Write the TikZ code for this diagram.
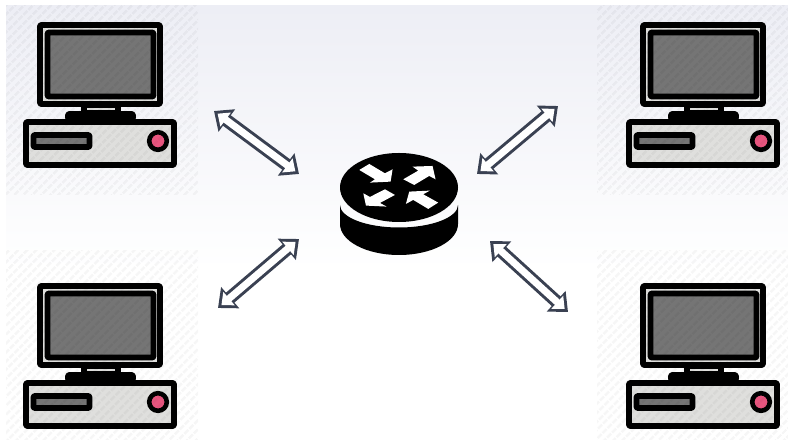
\documentclass[tikz,border=0pt]{standalone}
\usetikzlibrary{arrows.meta,patterns.meta}
\definecolor{linkdark}{HTML}{3A4152}
\definecolor{screengrey}{HTML}{757575}
\definecolor{casegrey}{HTML}{DFDFDD}
\definecolor{ledpink}{HTML}{E8557F}
\definecolor{bgtop}{HTML}{EDEEF5}
\tikzset{
	tile/.style={pattern={Lines[angle=45,distance=6.5pt,line width=3pt]},pattern color=black,opacity=0.035},
	frame/.style={draw=black,line width=5.8pt,rounded corners=1pt,line join=round},
	linkout/.style={{Triangle[length=16pt,width=27pt]}-{Triangle[length=16pt,width=27pt]},linkdark,line width=13pt},
	linkin/.style={{Triangle[length=10pt,width=17pt]}-{Triangle[length=10pt,width=17pt]},white,line width=7pt,shorten <=4.5pt,shorten >=4.5pt},
	pics/computer/.style={code={
		\draw[frame,fill=casegrey] (3,3) rectangle (123,82);
		\draw[frame,fill=screengrey] (10.5,10.5) rectangle (116.5,74.5);
		\fill[black] (44,84) rectangle (84,90);
		\fill[casegrey] (50,86.5) rectangle (78,88.5);
		\draw[frame,fill=screengrey] (31,92) rectangle (96,97);
		\draw[frame,fill=casegrey] (-11,100) rectangle (137,143);
		\draw[frame,fill=screengrey] (-3.5,113) rectangle (52.5,125);
		\draw[black,line width=4.6pt,fill=ledpink] (121,119) circle (8.8);
	}},
}
\begin{document}
\begin{tikzpicture}[x=1pt,y=-1pt]
	\useasboundingbox (0,0) rectangle (788,443);
	\fill[white] (0,0) rectangle (788,443);
	\shade[top color=bgtop,bottom color=white] (6,6) rectangle (788,270);

	\pic (pcnw) at (37,22) {computer};
	\pic (pcne) at (640,22) {computer};
	\pic (pcsw) at (37,283) {computer};
	\pic (pcse) at (640,283) {computer};

	\path[tile] (6,6) rectangle (198,195);
	\path[tile] (597,6) rectangle (788,195);
	\path[tile] (6,251) rectangle (198,440);
	\path[tile] (597,251) rectangle (788,440);

	% router
	\coordinate (router) at (399,187.5);
	\fill[black] (340,205) -- (340,224) arc[start angle=180,end angle=0,x radius=59,y radius=31] -- (458,205)
		arc[start angle=0,end angle=180,x radius=59,y radius=22.5] -- cycle;
	\fill[black] (router) ellipse [x radius=59,y radius=34.5];
	\begin{scope}[shift={(320,140)},x=0.333pt,y=-0.333pt]
		\fill[white] (118,90) -- (148,72) -- (195,100) -- (218,88) -- (212,125) -- (150,128) -- (165,118) -- cycle;
		\fill[white] (250,118) -- (295,92) -- (278,80) -- (338,78) -- (347,118) -- (328,108) -- (283,135) -- cycle;
		\fill[white] (195,148) -- (225,165) -- (180,189) -- (200,200) -- (138,197) -- (130,160) -- (150,171) -- cycle;
		\fill[white] (355,188) -- (325,207) -- (280,180) -- (258,192) -- (268,155) -- (330,152) -- (310,163) -- cycle;
	\end{scope}

	\coordinate (nwa) at (214,111);
	\coordinate (nwb) at (299,174);
	\coordinate (nea) at (558,106);
	\coordinate (neb) at (477,174);
	\coordinate (swa) at (218,308);
	\coordinate (swb) at (299,239);
	\coordinate (sea) at (568,312);
	\coordinate (seb) at (490,241);
	\foreach \from/\to in {nwa/nwb,nea/neb,swa/swb,sea/seb} {
		\draw[linkout] (\from) -- (\to);
		\draw[linkin] (\from) -- (\to);
	}
\end{tikzpicture}
\end{document}
